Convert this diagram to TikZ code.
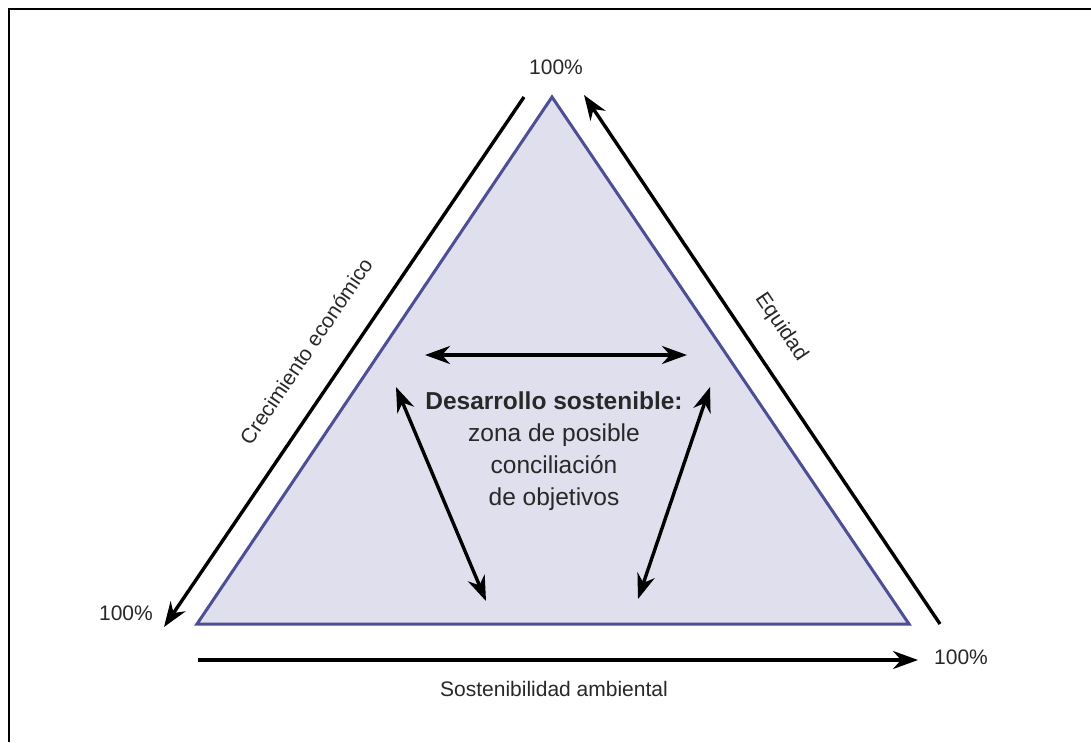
\documentclass[tikz,border=0pt]{standalone}
\usepackage{fontspec}
\setmainfont{Liberation Sans}
\usetikzlibrary{arrows.meta}
\definecolor{trifill}{RGB}{223,223,238}
\definecolor{tristroke}{RGB}{78,78,150}
\definecolor{txt}{RGB}{40,40,40}
\tikzset{
  tip/.tip={Stealth[length=25pt,width=18pt,inset=8pt]},
  arr/.style={line width=3.4pt, -tip},
  darr/.style={line width=3.4pt, tip-tip},
  lbl/.style={text=txt, font=\fontsize{21}{25}\selectfont, inner sep=0pt},
  center/.style={text=txt, font=\fontsize{24.5}{32}\selectfont, align=center, inner sep=0pt}
}
\begin{document}
\begin{tikzpicture}[x=1pt,y=-1pt]
\useasboundingbox (0,0) rectangle (1091,742);
\fill[white] (0,0) rectangle (1091,742);
% frame
\draw[line width=2.6pt] (9,742) -- (9,9) -- (1091,9);
% triangle
\coordinate (A) at (552,97);
\coordinate (B) at (197,624);
\coordinate (C) at (909,624);
\draw[fill=trifill, draw=tristroke, line width=3pt, line join=miter] (A) -- (B) -- (C) -- cycle;
% side lines
\coordinate (l1) at (524,97);
\coordinate (l2) at (164,627);
\draw[arr] (l1) -- (l2);
\coordinate (r1) at (940,624);
\coordinate (r2) at (584,95);
\draw[arr] (r1) -- (r2);
\coordinate (b1) at (198,660);
\coordinate (b2) at (918,660);
\draw[arr] (b1) -- (b2);
% labels
\node[lbl] (top) at (556,67) {100\%};
\node[lbl] (left) at (126,613) {100\%};
\node[lbl] (right) at (961,657) {100\%};
\node[lbl] (bottom) at (554,689) {Sostenibilidad ambiental};
\node[lbl, rotate=56] (crec) at (306,351) {Crecimiento económico};
\node[lbl, rotate=-56] (equi) at (781,327) {Equidad};
% center text
\node[center] (ctr) at (554,451) {\textbf{Desarrollo sostenible:}\\zona de posible\\conciliación\\de objetivos};
% inner arrows
\coordinate (h1) at (425,355);
\coordinate (h2) at (687,355);
\draw[darr] (h1) -- (h2);
\coordinate (d1) at (396,387);
\coordinate (d2) at (486,601);
\draw[darr] (d1) -- (d2);
\coordinate (e1) at (710,387);
\coordinate (e2) at (638,599);
\draw[darr] (e1) -- (e2);
\end{tikzpicture}
\end{document}
